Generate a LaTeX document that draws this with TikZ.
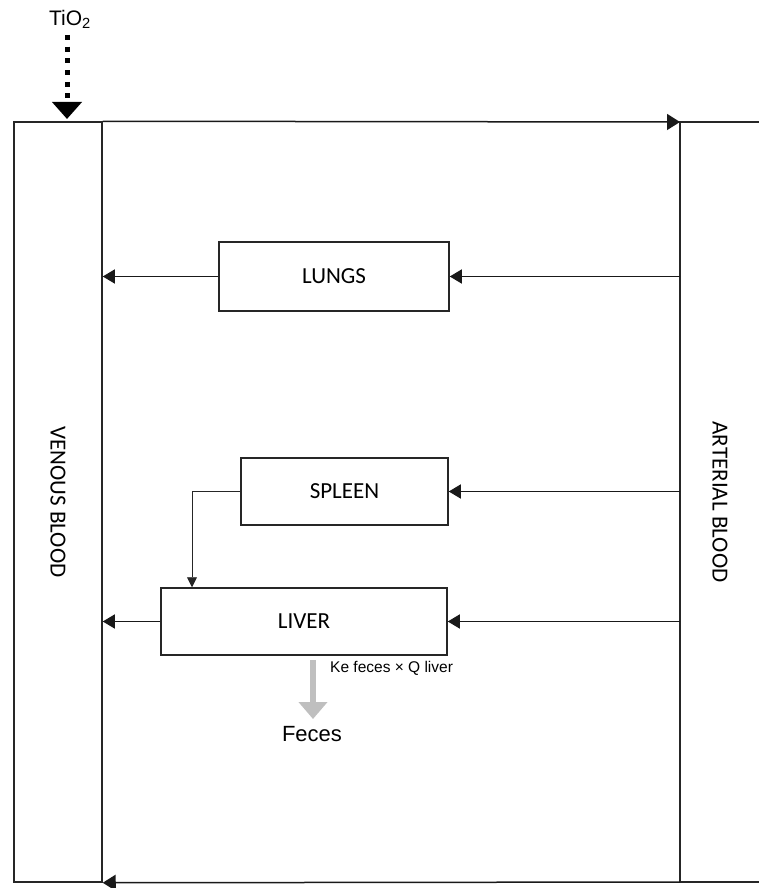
\documentclass[tikz,border=0pt]{standalone}
\usepackage{fontspec}
\setmainfont{Liberation Sans}
\newfontfamily\boxfont{Carlito}
\usetikzlibrary{arrows.meta}
\tikzset{
  organ/.style={draw=black!85, line width=1.5pt, inner sep=0pt, font=\boxfont\fontsize{23}{26}\selectfont},
  poolbox/.style={draw=black!85, line width=1.5pt, inner sep=0pt},
  poollabel/.style={rotate=-90, font=\boxfont\fontsize{23}{26}\selectfont},
  flow/.style={line width=1.5pt, draw=black!90, -{Triangle[length=12pt,width=14pt]}},
  thinflow/.style={line width=0.9pt, draw=black!85, -{Triangle[length=10pt,width=10pt]}},
  mainflow/.style={line width=1.5pt, draw=black!90, -{Triangle[length=13pt,width=16pt]}}
}
\begin{document}
\begin{tikzpicture}[x=1pt,y=-1pt]
\useasboundingbox (0,0) rectangle (759,888);
% pools
\node[poolbox, minimum width=88pt, minimum height=760pt] (venous) at (58,502) {};
\node[poollabel] (venouslabel) at (venous.center) {VENOUS BLOOD};
\coordinate (arttl) at (680,122);
\coordinate (artbl) at (680,882);
\coordinate (arttr) at (759,122);
\coordinate (artbr) at (759,882);
\draw[line width=1.5pt, draw=black!85] (arttr) -- (arttl) -- (artbl) -- (artbr);
\node[poollabel] (arteriallabel) at (720,502) {ARTERIAL BLOOD};
% organs
\node[organ, minimum width=230pt, minimum height=69pt] (lungs) at (334,276.5) {LUNGS};
\node[organ, minimum width=207pt, minimum height=67pt] (spleen) at (344.5,491.5) {SPLEEN};
\node[organ, minimum width=286pt, minimum height=67pt] (liver) at (304,621.5) {LIVER};
% main loop
\draw[mainflow] (venous.north east) -- (arttl);
\draw[line width=1.5pt, draw=black!85] (artbr) -- (artbl);
\draw[mainflow] (artbl) -- (venous.south east);
% organ flows
\draw[flow] (arttl |- lungs.east) -- (lungs.east);
\draw[flow] (lungs.west) -- (venous.east |- lungs.west);
\draw[flow] (arttl |- spleen.east) -- (spleen.east);
\draw[flow] (arttl |- liver.east) -- (liver.east);
\draw[flow] (liver.west) -- (venous.east |- liver.west);
\draw[thinflow] (spleen.west) -| (liver.north west -| 192,0);
% excretion
\coordinate (fecestop) at (313,660);
\node[anchor=base] (feces) at (312,741) {\fontsize{22}{26}\selectfont Feces};
\draw[line width=6pt, draw=black!25, -{Triangle[length=17pt,width=28pt]}] (fecestop) -- (313,719);
\node[anchor=base west, inner sep=0pt] (kelabel) at (330,672) {\fontsize{15.5}{18}\selectfont Ke feces × Q liver};
% dose
\node[inner sep=0pt] (tio2) at (70,19) {\fontsize{21}{24}\selectfont TiO\textsubscript{2}};
\draw[line width=5pt, dash pattern=on 5pt off 6.7pt, -{Triangle[length=17pt,width=29pt]}] (67,35) -- (67,119);
\end{tikzpicture}
\end{document}
